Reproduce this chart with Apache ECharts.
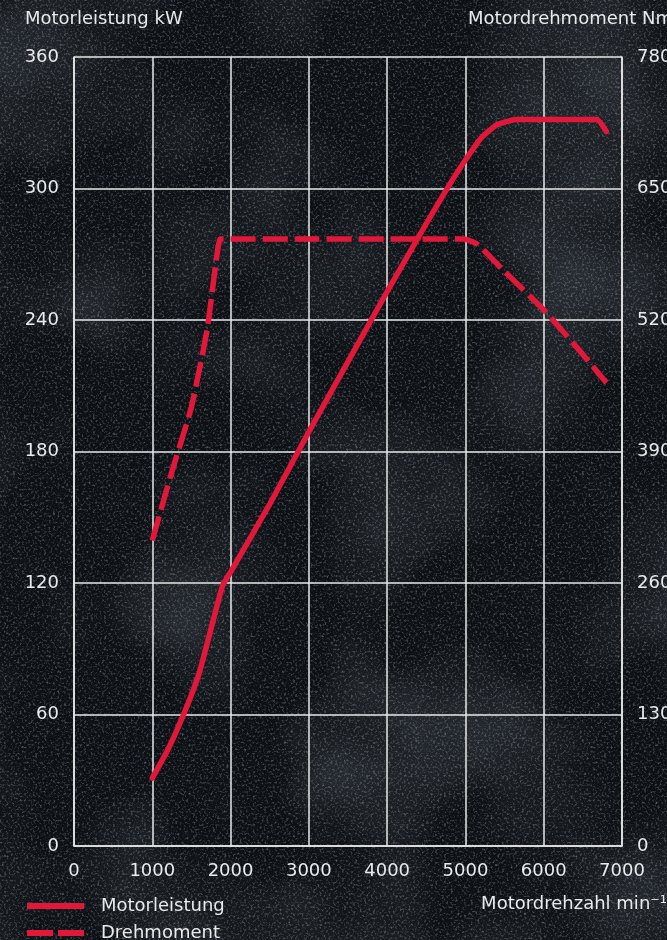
<!DOCTYPE html>
<html><head><meta charset="utf-8">
<script src="https://cdn.jsdelivr.net/npm/echarts@6/dist/echarts.min.js"></script>
<style>
html,body{margin:0;padding:0;width:667px;height:940px;overflow:hidden;}
body{background-color:#101418;}
#bg{position:absolute;left:0;top:0;width:667px;height:940px;}
#c{position:absolute;left:0;top:0;width:667px;height:940px;}
</style></head><body>
<svg id="bg" xmlns="http://www.w3.org/2000/svg" width="667" height="940">
  <defs>
    <filter id="n" x="0" y="0" width="100%" height="100%">
      <feTurbulence type="fractalNoise" baseFrequency="0.45" numOctaves="2" seed="7" result="t"/>
      <feColorMatrix in="t" type="matrix" values="0 0 0 0 0.40  0 0 0 0 0.47  0 0 0 0 0.54  2.4 0 0 0 -1.2"/>
    </filter>
    <filter id="m" x="0" y="0" width="100%" height="100%">
      <feTurbulence type="fractalNoise" baseFrequency="0.006" numOctaves="3" seed="4" result="t"/>
      <feColorMatrix in="t" type="matrix" values="0 0 0 0 0.35  0 0 0 0 0.42  0 0 0 0 0.5  1.2 0 0 0 -0.5"/>
    </filter>
  </defs>
  <rect width="667" height="940" fill="#0d1014"/>
  <rect width="667" height="940" filter="url(#m)" opacity="0.35"/>
  <rect width="667" height="940" filter="url(#n)" opacity="0.5"/>
</svg>
<div id="c"></div>
<script>
var rpmTicks = [0,1000,2000,3000,4000,5000,6000,7000];
var powerData = [[1000,31],[1200,44],[1400,60],[1600,79],[1800,106],[1900,119],[2000,125],[2500,156],[3000,189],[3500,221],[4000,253],[4500,284],[4800,302],[5000,313],[5200,323],[5400,329],[5650,331.5],[6000,331.5],[6500,331.5],[6680,331.5],[6800,326]];
var torqueData = [[1000,302],[1250,370],[1500,434],[1700,510],[1800,569],[1870,600],[2000,600],[3000,600],[4000,600],[4980,600],[5150,595],[5500,568],[6000,530],[6500,486],[6800,458]];
var powerName = 'Motorleistung';
var torqueName = 'Drehmoment';
var red = '#e3173a';
var txt = '#e8eaec';
var font = 'DejaVu Sans';
var fs = 18;
var chart = echarts.init(document.getElementById('c'));
function legendFor(name, icon, top) {
  return {
    left: 27, top: top, padding: 0,
    itemWidth: 57, itemHeight: 6,
    textStyle: {color: txt, fontSize: fs, fontFamily: font, padding: [0,0,0,12]},
    data: [{name: name, icon: icon}]
  };
}
function plain(v){ return String(v); }
chart.setOption({
  backgroundColor: 'transparent',
  animation: false,
  title: [
    {text: 'Motorleistung kW', left: 25, top: 10, padding: 0, textStyle: {color: txt, fontSize: fs, fontWeight: 'normal', fontFamily: font}},
    {text: 'Motordrehmoment Nm', left: 468, top: 10, padding: 0, textStyle: {color: txt, fontSize: fs, fontWeight: 'normal', fontFamily: font}},
    {text: 'Motordrehzahl min⁻¹', right: 0, top: 895, padding: 0, textStyle: {color: txt, fontSize: fs, fontWeight: 'normal', fontFamily: font}}
  ],
  legend: [
    legendFor(powerName, 'rect', 897),
    legendFor(torqueName, 'path://M0,0h26v6h-26z M31,0h26v6h-26z', 924)
  ],
  grid: {left: 74, right: 45, top: 57, bottom: 94, outerBoundsMode: 'none', containLabel: false},
  xAxis: {
    type: 'value', min: 0, max: 7000, interval: 1000,
    axisLine: {show: true, lineStyle: {color: '#e8e8e8', width: 1.5}},
    axisTick: {show: false},
    axisLabel: {color: txt, fontSize: fs, fontFamily: font, margin: 16, formatter: plain},
    splitLine: {show: true, lineStyle: {color: '#e8e8e8', width: 1.5}}
  },
  yAxis: [
    {type: 'value', min: 0, max: 360, interval: 60, position: 'left',
     axisLine: {show: true, lineStyle: {color: '#e8e8e8', width: 1.5}},
     axisTick: {show: false},
     axisLabel: {color: txt, fontSize: fs, fontFamily: font, margin: 15, formatter: plain},
     splitLine: {show: true, lineStyle: {color: '#e8e8e8', width: 1.5}}},
    {type: 'value', min: 0, max: 780, interval: 130, position: 'right',
     axisLine: {show: true, lineStyle: {color: '#e8e8e8', width: 1.5}},
     axisTick: {show: false},
     axisLabel: {color: txt, fontSize: fs, fontFamily: font, margin: 15, formatter: plain},
     splitLine: {show: false}}
  ],
  series: [
    {name: powerName, type: 'line', yAxisIndex: 0, data: powerData, showSymbol: false, smooth: 0.15,
     lineStyle: {color: red, width: 5.5, cap: 'round'}, itemStyle: {color: red}},
    {name: torqueName, type: 'line', yAxisIndex: 1, data: torqueData, showSymbol: false, smooth: 0.15,
     lineStyle: {color: red, width: 5.5, type: [25, 7]}, itemStyle: {color: red}}
  ]
});
</script>
</body></html>
